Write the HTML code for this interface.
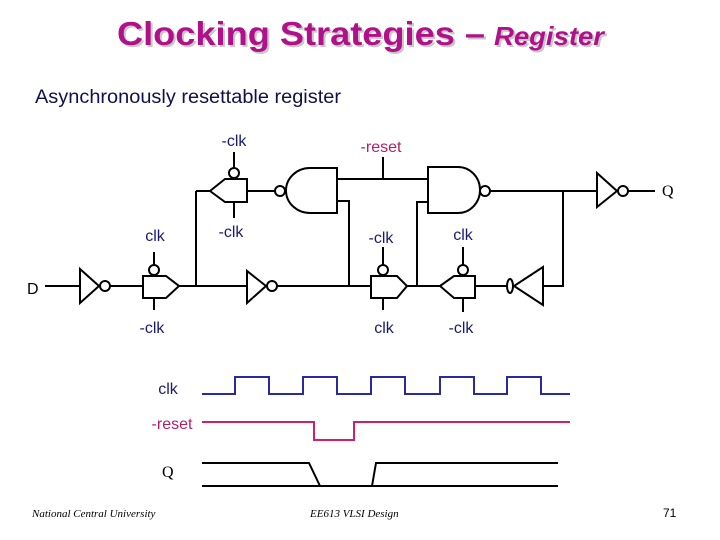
<!DOCTYPE html>
<html><head><meta charset="utf-8"><style>
html,body{margin:0;padding:0;background:#fff;}
svg{display:block;}
</style></head><body>
<svg width="720" height="540" viewBox="0 0 720 540" xmlns="http://www.w3.org/2000/svg" font-family="Liberation Sans, sans-serif">
<g font-weight="bold">
<text x="119" y="47" font-size="33" fill="#c8c8c8" textLength="368" lengthAdjust="spacingAndGlyphs">Clocking Strategies –</text>
<text x="496" y="47" font-size="26" font-style="italic" fill="#c8c8c8" textLength="110" lengthAdjust="spacingAndGlyphs">Register</text>
<text x="117" y="45" font-size="33" fill="#b0108a" textLength="368" lengthAdjust="spacingAndGlyphs">Clocking Strategies –</text>
<text x="494" y="45" font-size="26" font-style="italic" fill="#b0108a" textLength="110" lengthAdjust="spacingAndGlyphs">Register</text>
</g>
<text x="35" y="103" font-size="19" fill="#10104a" textLength="306" lengthAdjust="spacingAndGlyphs">Asynchronously resettable register</text>

<g stroke="#000" stroke-width="2" fill="none">
<line x1="45" y1="286" x2="80" y2="286"/>
<polygon points="80,269 80,303 99,286" fill="#fff"/>
<circle cx="105" cy="286" r="5" fill="#fff"/>
<line x1="110" y1="286" x2="143" y2="286"/>
<polygon points="143,276 166,276 179,286 166,298 143,298" fill="#fff"/>
<circle cx="154" cy="270" r="5" fill="#fff"/><line x1="154" y1="265" x2="154" y2="252"/><line x1="154" y1="298" x2="154" y2="310"/>
<line x1="179" y1="286" x2="247" y2="286"/>
<line x1="196" y1="286" x2="196" y2="191"/><line x1="196" y1="191" x2="210" y2="191"/>
<polygon points="210,191 225,179 247,179 247,202 225,202" fill="#fff"/>
<circle cx="234" cy="173" r="5" fill="#fff"/><line x1="234" y1="168" x2="234" y2="152"/><line x1="234" y1="202" x2="234" y2="218"/>
<line x1="247" y1="191" x2="275" y2="191"/>
<circle cx="280" cy="191" r="5" fill="#fff"/>
<path d="M337,168 L310,168 A24,22.5 0 0 0 310,213 L337,213 Z" fill="#fff"/>
<line x1="337" y1="179" x2="428" y2="179"/>
<line x1="383" y1="157" x2="383" y2="179"/>
<polyline points="337,201 349,201 349,286"/>
<polygon points="247,271 247,303 266,286" fill="#fff"/>
<circle cx="272" cy="286" r="5" fill="#fff"/>
<line x1="277" y1="286" x2="371" y2="286"/>
<polygon points="371,276 397,276 407,286 397,298 371,298" fill="#fff"/>
<circle cx="383" cy="270" r="5" fill="#fff"/><line x1="383" y1="265" x2="383" y2="247"/><line x1="383" y1="298" x2="383" y2="310"/>
<line x1="407" y1="286" x2="440" y2="286"/>
<polyline points="417,286 417,202 428,202"/>
<path d="M428,167 L458,167 A22,23 0 0 1 458,213 L428,213 Z" fill="#fff"/>
<circle cx="485" cy="191" r="5" fill="#fff"/>
<line x1="490" y1="191" x2="597" y2="191"/>
<polygon points="597,173 597,207 617,191" fill="#fff"/>
<circle cx="623" cy="191" r="5" fill="#fff"/>
<line x1="628" y1="191" x2="655" y2="191"/>
<polyline points="563,191 563,286 543,286"/>
<polygon points="440,286 454,276 475,276 475,298 454,298" fill="#fff"/>
<circle cx="463" cy="270" r="5" fill="#fff"/><line x1="463" y1="265" x2="463" y2="247"/><line x1="463" y1="298" x2="463" y2="312"/>
<line x1="475" y1="286" x2="507" y2="286"/>
<ellipse cx="510" cy="286" rx="3" ry="7" fill="#fff"/>
<polygon points="543,267 543,305 514,286" fill="#fff"/>
</g>
<g font-size="16" fill="#1a1a6e">
<text x="234" y="146" text-anchor="middle">-clk</text>
<text x="231" y="237" text-anchor="middle">-clk</text>
<text x="155" y="241" text-anchor="middle">clk</text>
<text x="152" y="333" text-anchor="middle">-clk</text>
<text x="381" y="243" text-anchor="middle">-clk</text>
<text x="384" y="333" text-anchor="middle">clk</text>
<text x="463" y="240" text-anchor="middle">clk</text>
<text x="461" y="333" text-anchor="middle">-clk</text>
<text x="168" y="394" text-anchor="middle">clk</text>
</g>
<text x="381" y="152" font-size="16" fill="#b0206a" text-anchor="middle">-reset</text>
<text x="172" y="429" font-size="16" fill="#b0206a" text-anchor="middle">-reset</text>
<text x="27" y="294" font-size="16" fill="#000">D</text>
<text x="662" y="196" font-size="16" fill="#000" font-family="Liberation Serif, serif">Q</text>
<text x="162" y="477" font-size="16" fill="#000" font-family="Liberation Serif, serif">Q</text>

<polyline fill="none" stroke="#2a2aa0" stroke-width="2" points="202,394 235,394 235,377 269,377 269,394 303,394 303,377 337,377 337,394 371,394 371,377 405,377 405,394 440,394 440,377 474,377 474,394 507,394 507,377 541,377 541,394 570,394"/>
<polyline fill="none" stroke="#d0206a" stroke-width="2" points="202,422 314,422 314,440 354,440 354,422 570,422"/>
<polyline fill="none" stroke="#000" stroke-width="2" points="202,463 309,463 320,486"/>
<line x1="202" y1="486" x2="558" y2="486" stroke="#000" stroke-width="2"/>
<polyline fill="none" stroke="#000" stroke-width="2" points="372,486 376,463 558,463"/>

<text x="32" y="517" font-size="11" font-style="italic" font-family="Liberation Serif, serif">National Central University</text>
<text x="310" y="517" font-size="11" font-style="italic" font-family="Liberation Serif, serif">EE613 VLSI Design</text>
<text x="663" y="517" font-size="12" font-family="Liberation Sans, sans-serif">71</text>
</svg>
</body></html>
